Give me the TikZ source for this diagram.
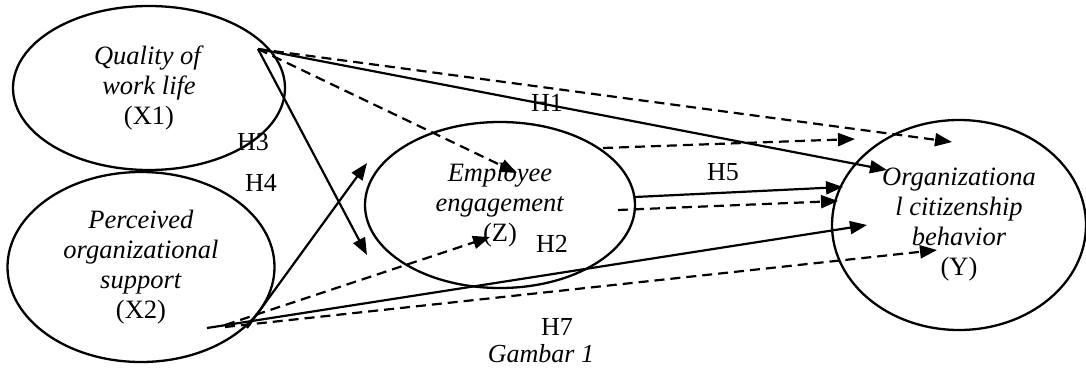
\documentclass[tikz,border=0pt]{standalone}
\usepackage{fontspec}
\setmainfont{Liberation Serif}
\usetikzlibrary{shapes.geometric,arrows.meta}
\begin{document}
\begin{tikzpicture}[x=1pt,y=-1pt,
  latent/.style={draw,ellipse,line width=2.3pt,inner sep=0pt,align=center,font=\fontsize{26.5}{30}\selectfont},
  solidpath/.style={line width=2.2pt,-{Triangle[length=17pt,width=13pt]}},
  dashpath/.style={solidpath,dash pattern=on 10pt off 6pt},
  hlab/.style={inner sep=0pt,font=\fontsize{26}{28}\selectfont}]
\useasboundingbox (0,0) rectangle (1086,367);
% constructs
\node[latent,minimum width=272,minimum height=164] (X1) at (149,88)
  {\textit{Quality of}\\\textit{work life}\\(X1)};
\node[latent,minimum width=267,minimum height=190] (X2) at (141,267)
  {\textit{Perceived}\\\textit{organizational}\\\textit{support}\\(X2)};
\node[latent,minimum width=270,minimum height=166] (Z) at (500,205)
  {\textit{Employee}\\\textit{engagement}\\(Z)};
\node[latent,minimum width=254,minimum height=210] (Y) at (959,225)
  {\textit{Organizationa}\\\textit{l citizenship}\\\textit{behavior}\\(Y)};
% connector end points
\coordinate (a1) at (258,49);
\coordinate (b1) at (207,328);
\coordinate (b2) at (225,327);
\coordinate (b3) at (225,325);
\coordinate (b4) at (247,328);
\coordinate (z1) at (603,148);
\coordinate (z2) at (635,197);
\coordinate (z3) at (618,210);
\coordinate (yA) at (887,170);
\coordinate (yB) at (952,142);
\coordinate (yC) at (855,139);
\coordinate (yD) at (843,187);
\coordinate (yE) at (838,201);
\coordinate (yF) at (867,225);
\coordinate (yG) at (937,250);
\coordinate (zA) at (517,173);
\coordinate (zB) at (367,255);
\coordinate (zC) at (367,163);
\coordinate (zD) at (490,237);
% connectors
\draw[solidpath] (a1) -- (yA);
\draw[dashpath] (a1) -- (yB);
\draw[dashpath] (a1) -- (zA);
\draw[solidpath] (a1) -- (zB);
\draw[dashpath] (z1) -- (yC);
\draw[solidpath] (z2) -- (yD);
\draw[dashpath] (z3) -- (yE);
\draw[solidpath] (b1) -- (yF);
\draw[dashpath] (b2) -- (yG);
\draw[dashpath] (b3) -- (zD);
\draw[solidpath] (b4) -- (zC);
% labels
\node[hlab] (h1) at (547,103) {H1};
\node[hlab] (h3) at (253,142) {H3};
\node[hlab] (h4) at (261,183) {H4};
\node[hlab] (h5) at (723,172) {H5};
\node[hlab] (h2) at (552,244) {H2};
\node[hlab] (h7) at (557,327) {H7};
\node[inner sep=0pt,anchor=base,font=\fontsize{26}{30}\selectfont\itshape] (cap) at (541,362) {Gambar 1};
\end{tikzpicture}
\end{document}
